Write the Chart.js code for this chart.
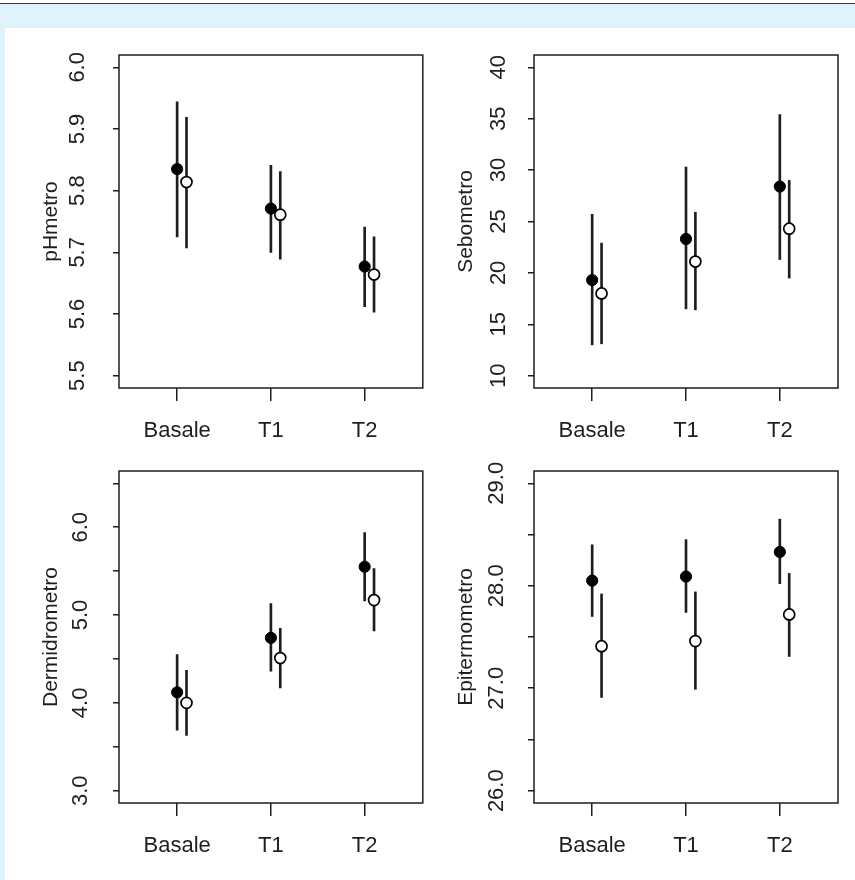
<!DOCTYPE html>
<html>
<head>
<meta charset="utf-8">
<script src="https://cdn.jsdelivr.net/npm/chart.js@4/dist/chart.umd.min.js"></script>
<style>
  html, body { margin: 0; padding: 0; background: #fff; }
  #page { position: relative; width: 855px; height: 880px; overflow: hidden; background: #fff; }
  #topline { position: absolute; left: 0; top: 3px; width: 855px; height: 1px; background: #3a3a3a; }
  #band { position: absolute; left: 0; top: 4px; width: 855px; height: 876px; background: #e0f2fc; }
  #panel { position: absolute; left: 5px; top: 28px; width: 850px; height: 852px; background: #fff; }
  canvas { position: absolute; }
</style>
</head>
<body>
<div id="page">
  <div id="topline"></div>
  <div id="band"></div>
  <div id="panel"></div>
  <canvas id="c0"></canvas>
  <canvas id="c1"></canvas>
  <canvas id="c2"></canvas>
  <canvas id="c3"></canvas>
</div>
<script>
const categories = ['Basale', 'T1', 'T2'];

// pHmetro
const phFilled     = [5.835, 5.771, 5.677];
const phFilledLow  = [5.725, 5.700, 5.612];
const phFilledHigh = [5.944, 5.841, 5.741];
const phOpen       = [5.814, 5.761, 5.664];
const phOpenLow    = [5.707, 5.689, 5.603];
const phOpenHigh   = [5.919, 5.831, 5.725];
const phTicks      = [5.5, 5.6, 5.7, 5.8, 5.9, 6.0];
const phTickLabels = ['5.5', '5.6', '5.7', '5.8', '5.9', '6.0'];

// Sebometro
const seFilled     = [19.3, 23.3, 28.4];
const seFilledLow  = [13.0, 16.5, 21.3];
const seFilledHigh = [25.7, 30.3, 35.4];
const seOpen       = [18.0, 21.1, 24.3];
const seOpenLow    = [13.1, 16.4, 19.5];
const seOpenHigh   = [22.9, 25.9, 29.0];
const seTicks      = [10, 15, 20, 25, 30, 35, 40];
const seTickLabels = ['10', '15', '20', '25', '30', '35', '40'];

// Dermidrometro
const deFilled     = [4.12, 4.74, 5.55];
const deFilledLow  = [3.69, 4.36, 5.16];
const deFilledHigh = [4.55, 5.13, 5.94];
const deOpen       = [4.00, 4.51, 5.17];
const deOpenLow    = [3.63, 4.17, 4.82];
const deOpenHigh   = [4.37, 4.85, 5.53];
const deTicks      = [3.0, 3.5, 4.0, 4.5, 5.0, 5.5, 6.0, 6.5];
const deTickLabels = ['3.0', '', '4.0', '', '5.0', '', '6.0', ''];

// Epitermometro
const epFilled     = [28.05, 28.09, 28.33];
const epFilledLow  = [27.70, 27.74, 28.02];
const epFilledHigh = [28.40, 28.45, 28.65];
const epOpen       = [27.41, 27.46, 27.72];
const epOpenLow    = [26.91, 26.99, 27.31];
const epOpenHigh   = [27.92, 27.94, 28.12];
const epTicks      = [26.0, 26.5, 27.0, 27.5, 28.0, 28.5, 29.0];
const epTickLabels = ['26.0', '', '27.0', '', '28.0', '', '29.0'];

const panels = [
  { title: 'pHmetro', ylim: [5.5, 6.0], ticks: phTicks, labels: phTickLabels,
    filled: phFilled, filledLow: phFilledLow, filledHigh: phFilledHigh,
    open: phOpen, openLow: phOpenLow, openHigh: phOpenHigh },
  { title: 'Sebometro', ylim: [10, 40], ticks: seTicks, labels: seTickLabels,
    filled: seFilled, filledLow: seFilledLow, filledHigh: seFilledHigh,
    open: seOpen, openLow: seOpenLow, openHigh: seOpenHigh },
  { title: 'Dermidrometro', ylim: [3, 6.5], ticks: deTicks, labels: deTickLabels,
    filled: deFilled, filledLow: deFilledLow, filledHigh: deFilledHigh,
    open: deOpen, openLow: deOpenLow, openHigh: deOpenHigh },
  { title: 'Epitermometro', ylim: [26, 29], ticks: epTicks, labels: epTickLabels,
    filled: epFilled, filledLow: epFilledLow, filledHigh: epFilledHigh,
    open: epOpen, openLow: epOpenLow, openHigh: epOpenHigh }
];

// canvas placement and plot box (page pixels)
const frames = [
  { x: 5,   y: 28,  w: 425, h: 422, boxL: 119, boxT: 55,  boxR: 423, boxB: 388, gap: 35, titlePad: 34 },
  { x: 430, y: 28,  w: 425, h: 422, boxL: 534, boxT: 55,  boxR: 838, boxB: 388, gap: 29, titlePad: 24 },
  { x: 5,   y: 450, w: 425, h: 430, boxL: 119, boxT: 471, boxR: 423, boxB: 803, gap: 32, titlePad: 34 },
  { x: 430, y: 450, w: 425, h: 430, boxL: 534, boxT: 471, boxR: 838, boxB: 803, gap: 31, titlePad: 24 }
];

const INK = '#1e1e1e';
const FONT = '"Liberation Sans", Arial, sans-serif';
const OFFSET = 0.1;   // open circles sit a little right of each group
const XLIM = [0.5, 3.5];

// R style axis extension (4%)
function extend(lim) {
  const d = (lim[1] - lim[0]) * 0.04;
  return [lim[0] - d, lim[1] + d];
}

const boxPlugin = {
  id: 'box',
  afterDraw(chart, args, opts) {
    const { ctx, chartArea: a } = chart;
    const y = chart.scales.y;
    ctx.save();
    ctx.strokeStyle = INK;
    ctx.lineWidth = 1.5;
    ctx.strokeRect(a.left, a.top, a.right - a.left, a.bottom - a.top);
    ctx.fillStyle = INK;
    ctx.font = '22px ' + FONT;
    ctx.textAlign = 'center';
    ctx.textBaseline = 'alphabetic';
    y.ticks.forEach((t, i) => {
      const lab = opts.labels[i];
      if (!lab) return;
      ctx.save();
      ctx.translate(a.left - opts.gap, y.getPixelForValue(t.value));
      ctx.rotate(-Math.PI / 2);
      ctx.fillText(lab, 0, 0);
      ctx.restore();
    });
    ctx.restore();
  }
};

panels.forEach((p, k) => {
  const f = frames[k];
  const cv = document.getElementById('c' + k);
  cv.width = f.w; cv.height = f.h;
  cv.style.left = f.x + 'px'; cv.style.top = f.y + 'px';
  const yr = extend(p.ylim);
  const xr = extend(XLIM);

  new Chart(cv, {
    type: 'scatter',
    data: {
      datasets: [
        { type: 'bar', order: 2, grouped: false, barThickness: 2, backgroundColor: INK, borderWidth: 0,
          data: categories.map((c, i) => ({ x: i + 1, y: [p.filledLow[i], p.filledHigh[i]] })) },
        { type: 'bar', order: 2, grouped: false, barThickness: 2, backgroundColor: INK, borderWidth: 0,
          data: categories.map((c, i) => ({ x: i + 1 + OFFSET, y: [p.openLow[i], p.openHigh[i]] })) },
        { type: 'scatter', order: 1, pointRadius: 5.6, pointBackgroundColor: '#000', pointBorderColor: '#000', pointBorderWidth: 1,
          data: categories.map((c, i) => ({ x: i + 1, y: p.filled[i] })) },
        { type: 'scatter', order: 0, pointRadius: 5.5, pointBackgroundColor: '#fff', pointBorderColor: '#000', pointBorderWidth: 1.7,
          data: categories.map((c, i) => ({ x: i + 1 + OFFSET, y: p.open[i] })) }
      ]
    },
    options: {
      responsive: false,
      animation: false,
      devicePixelRatio: 1,
      layout: { padding: { left: 0, top: f.boxT - f.y, right: f.x + f.w - f.boxR, bottom: 0 } },
      plugins: {
        legend: { display: false },
        tooltip: { enabled: false },
        box: { labels: p.labels, gap: f.gap }
      },
      scales: {
        x: {
          type: 'linear', min: xr[0], max: xr[1], offset: false,
          afterBuildTicks: s => { s.ticks = categories.map((c, i) => ({ value: i + 1 })); },
          afterFit: s => { s.height = f.y + f.h - f.boxB; },
          grid: { offset: false, drawOnChartArea: false, drawTicks: true, tickLength: 13, color: INK, lineWidth: 1.5 },
          border: { display: false },
          ticks: {
            autoSkip: false, maxRotation: 0, padding: 17, color: INK,
            font: { family: FONT, size: 22 },
            callback: v => categories[Math.round(v) - 1]
          }
        },
        y: {
          type: 'linear', min: yr[0], max: yr[1],
          afterBuildTicks: s => { s.ticks = p.ticks.map(v => ({ value: v })); },
          afterFit: s => { s.width = f.boxL - f.x; },
          grid: { drawOnChartArea: false, drawTicks: true, tickLength: 6, color: INK, lineWidth: 1.5 },
          border: { display: false },
          ticks: { display: false },
          title: {
            display: true, text: p.title, color: INK,
            font: { family: FONT, size: 21 },
            padding: { top: f.titlePad, bottom: 0 }
          }
        }
      }
    },
    plugins: [boxPlugin]
  });
});
</script>
</body>
</html>
